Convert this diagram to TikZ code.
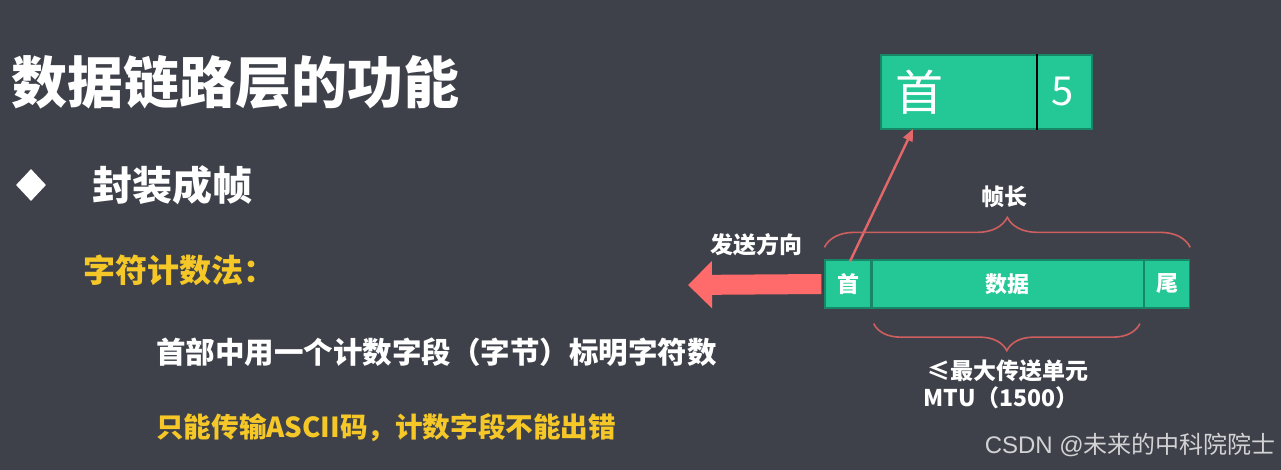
\documentclass[tikz,border=0pt]{standalone}
\usepackage{fontspec}
\setmainfont{Noto Sans CJK SC}
\newfontfamily\marklatin{Liberation Sans}
\usetikzlibrary{shapes.geometric,decorations.pathreplacing,arrows.meta}
\definecolor{slate}{RGB}{62,65,74}
\definecolor{mint}{RGB}{35,200,150}
\definecolor{mintedge}{RGB}{24,135,104}
\definecolor{amber}{RGB}{245,200,40}
\definecolor{coral}{RGB}{255,106,106}
\definecolor{bracecol}{RGB}{205,95,95}
\definecolor{pointercol}{RGB}{228,104,106}
\definecolor{markgray}{RGB}{210,210,212}

\begin{document}
\begin{tikzpicture}[
    x=1pt,y=-1pt,
    every node/.style={inner sep=0pt, text=white},
    title/.style={font=\fontsize{56}{60}\selectfont\bfseries, anchor=west},
    heading/.style={font=\fontsize{40}{44}\selectfont\bfseries, anchor=west},
    body/.style={font=\fontsize{29.5}{32}\selectfont\bfseries, anchor=west},
    label/.style={font=\fontsize{23}{26}\selectfont\bfseries},
    cell/.style={draw=mintedge, fill=mint, line width=1.3pt, minimum height=48pt, font=\fontsize{22}{24}\selectfont\bfseries},
    curly/.style={draw=bracecol, line width=1.6pt, decorate, decoration={brace, amplitude=#1}},
    pointer/.style={draw=pointercol, line width=2.4pt, -{Triangle[length=12pt,width=10pt]}}
]
    \fill[slate] (0,0) rectangle (1281,470);

    % left column
    \node[title] (title) at (11,82) {数据链路层的功能};
    \node[diamond, fill=white, minimum width=30pt, minimum height=32pt] (bullet) at (31,185) {};
    \node[heading] (topic) at (92,185) {封装成帧};
    \node[body, text=amber, font=\fontsize{32}{34}\selectfont\bfseries] (method) at (83,270) {字符计数法：};
    \node[body] (rule) at (156,352) {首部中用一个计数字段（字节）标明字符数};
    \node[body, text=amber, font=\fontsize{27.6}{30}\selectfont\bfseries] (limit) at (156,428) {只能传输ASCII码，计数字段不能出错};

    % frame
    \node[cell, minimum width=46pt] (head) at (848,284) {首};
    \node[cell, minimum width=271pt, anchor=west] (data) at (head.east) {数据};
    \node[cell, minimum width=45pt, anchor=west] (tail) at (data.east) {尾};

    % zoomed header
    \node[cell, minimum width=211pt, minimum height=74pt] (bigbox) at (986.5,92) {};
    \node[font=\fontsize{48}{50}\selectfont] (bighead) at (919,92) {首};
    \node[font=\fontsize{40}{42}\selectfont] (count) at (1063,92) {5};
    \coordinate (cut) at (1037,92);
    \draw[black, line width=2.6pt] (cut |- bigbox.north) -- (cut |- bigbox.south);

    \coordinate (tip) at (913,129);
    \draw[pointer] ([xshift=2pt,yshift=-2pt]head.north) -- (tip);

    % sending direction
    \coordinate (away) at (688,285);
    \draw[coral, line width=20pt, -{Triangle[length=24pt,width=46pt]}] ([xshift=-3pt]head.west) -- (away);
    \node[label] (direction) at (756,245) {发送方向};

    % braces
    \draw[curly=30pt] ([yshift=12pt]head.north west) -- ([yshift=12pt]tail.north east);
    \node[label] (framelen) at (1004,197) {帧长};
    \draw[curly=27pt] ([yshift=-15pt,xshift=-4pt]tail.south west) -- ([yshift=-15pt,xshift=2pt]data.south west);
    \node[label] (mtu) at (1008,371) {≤最大传送单元};
    \node[label] (mtusize) at (1001,398) {MTU（1500）};

    \node[font=\fontsize{24}{26}\selectfont, text=markgray, anchor=east] (mark) at (1276,445) {{\marklatin CSDN @}未来的中科院院士};
\end{tikzpicture}
\end{document}
